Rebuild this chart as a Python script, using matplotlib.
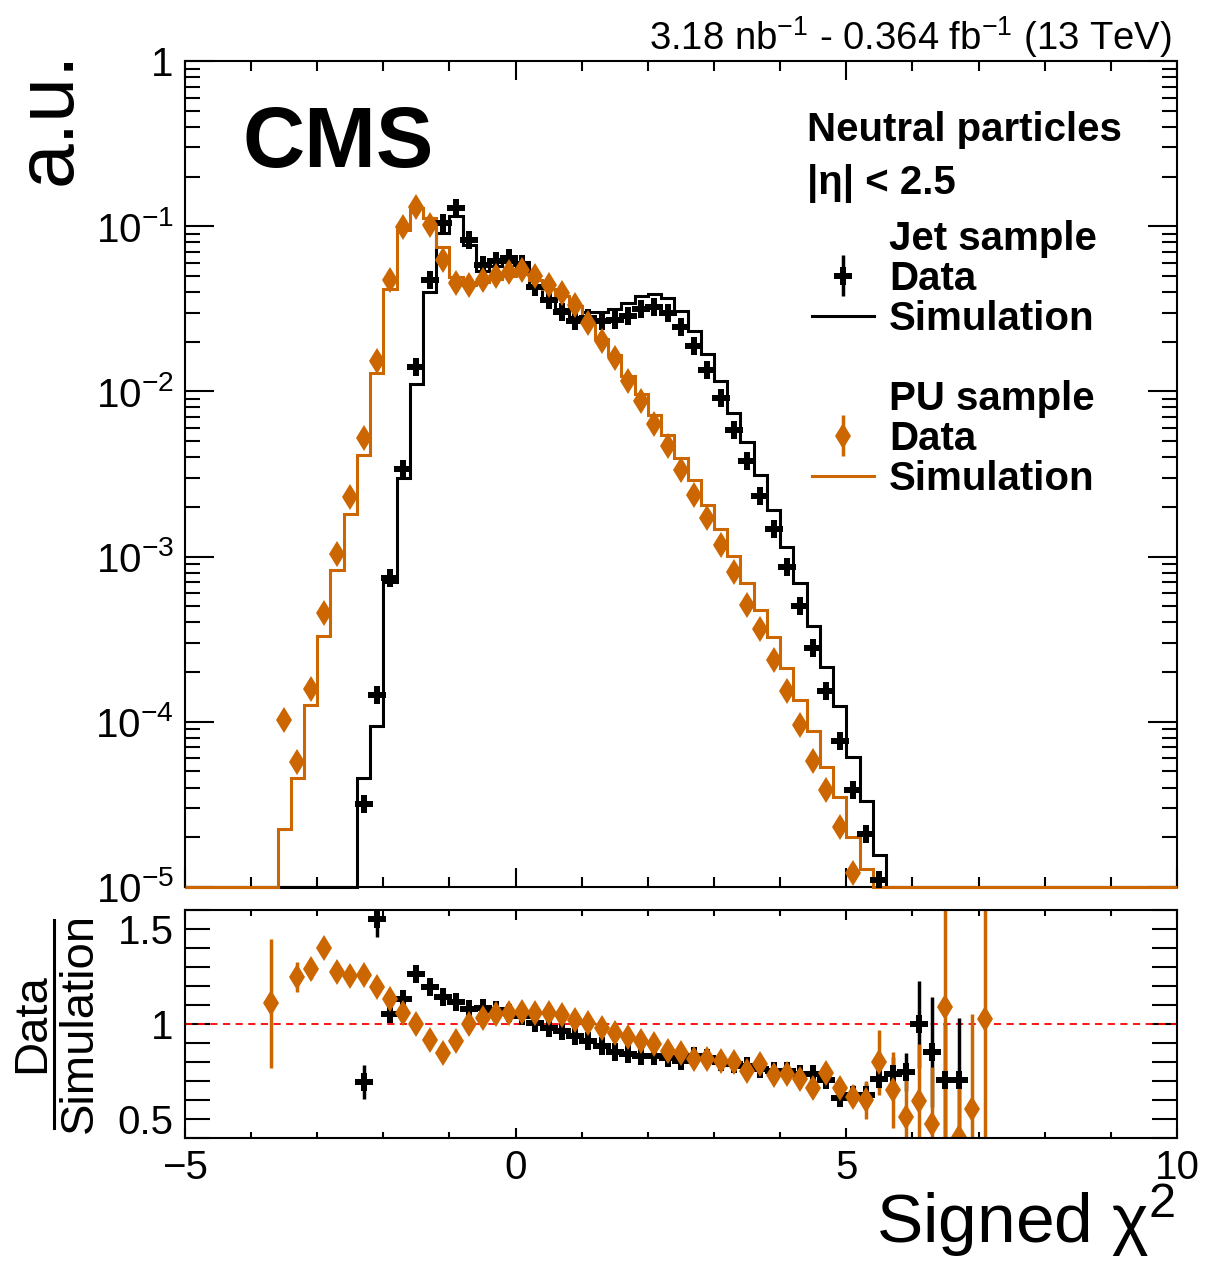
import numpy as np
import matplotlib
matplotlib.use('Agg')
import matplotlib.pyplot as plt
from matplotlib.lines import Line2D
from matplotlib.ticker import FixedLocator, FixedFormatter, MultipleLocator, LogLocator, NullFormatter

plt.rcParams['font.family'] = ['Liberation Sans', 'DejaVu Sans']
plt.rcParams['mathtext.fontset'] = 'custom'
plt.rcParams['mathtext.rm'] = 'Liberation Sans'
plt.rcParams['mathtext.it'] = 'Liberation Sans:italic'
plt.rcParams['mathtext.bf'] = 'Liberation Sans:bold'

ORANGE = '#CC6600'

# binning: 75 bins of 0.2 from -5 to 10
edges = np.linspace(-5, 10, 76)

# ---- Jet sample (black) ----
jet_x = [-2.3, -2.1, -1.9, -1.7, -1.5, -1.3, -1.1, -0.9, -0.7, -0.5,
         -0.3, -0.1, 0.1, 0.3, 0.5, 0.7, 0.9, 1.1, 1.3, 1.5,
         1.7, 1.9, 2.1, 2.3, 2.5, 2.7, 2.9, 3.1, 3.3, 3.5,
         3.7, 3.9, 4.1, 4.3, 4.5, 4.7, 4.9, 5.1, 5.3, 5.5]
jet_sim = [4.58e-5, 9.4e-5, 7.06e-4, 2.99e-3, 1.107e-2, 4.02e-2, 9.13e-2, 0.1152, 0.0765, 0.0538,
           0.0578, 0.0604, 0.0568, 0.0428, 0.0365, 0.0315, 0.0283, 0.0304, 0.0303, 0.0316,
           0.0343, 0.0378, 0.0388, 0.0366, 0.0305, 0.0233, 0.0169, 0.0115, 7.45e-3, 4.91e-3,
           3.13e-3, 1.92e-3, 1.15e-3, 6.92e-4, 3.78e-4, 2.15e-4, 1.25e-4, 6.14e-5, 3.30e-5, 1.57e-5]
jet_data = [3.16e-5, 1.46e-4, 7.42e-4, 3.39e-3, 1.415e-2, 4.73e-2, 0.1043, 0.1285, 0.0826, 0.0583,
            0.062, 0.064, 0.0592, 0.0431, 0.0358, 0.0304, 0.0265, 0.0277, 0.0268, 0.0271,
            0.0287, 0.0315, 0.0326, 0.0298, 0.0247, 0.0189, 0.0135, 9.1e-3, 5.86e-3, 3.77e-3,
            2.34e-3, 1.46e-3, 8.61e-4, 5.0e-4, 2.80e-4, 1.53e-4, 7.62e-5, 3.89e-5, 2.08e-5, 1.1e-5]

jet_rx = jet_x + [5.7, 5.9, 6.1, 6.3, 6.5, 6.7]
jet_ratio = [0.694, 1.550, 1.051, 1.132, 1.264, 1.195, 1.143, 1.115, 1.080, 1.083,
             1.073, 1.060, 1.042, 1.007, 0.981, 0.964, 0.937, 0.911, 0.885, 0.851,
             0.842, 0.833, 0.833, 0.819, 0.807, 0.833, 0.819, 0.798, 0.790, 0.781,
             0.764, 0.755, 0.755, 0.738, 0.738, 0.703, 0.611, 0.628, 0.628, 0.712,
             0.738, 0.746, 0.998, 0.851, 0.703, 0.703]
jet_rerr = [0.09, 0.09, 0.02, 0.01, 0.01, 0.01, 0.01, 0.01, 0.01, 0.01,
            0.01, 0.01, 0.01, 0.01, 0.01, 0.01, 0.01, 0.01, 0.01, 0.01,
            0.01, 0.01, 0.01, 0.01, 0.01, 0.01, 0.01, 0.01, 0.01, 0.01,
            0.01, 0.01, 0.01, 0.015, 0.02, 0.03, 0.04, 0.05, 0.06, 0.05,
            0.09, 0.10, 0.23, 0.29, 0.30, 0.33]

# ---- PU sample (orange) ----
pu_x = [-3.5, -3.3, -3.1, -2.9, -2.7, -2.5, -2.3, -2.1, -1.9, -1.7,
        -1.5, -1.3, -1.1, -0.9, -0.7, -0.5, -0.3, -0.1, 0.1, 0.3,
        0.5, 0.7, 0.9, 1.1, 1.3, 1.5, 1.7, 1.9, 2.1, 2.3,
        2.5, 2.7, 2.9, 3.1, 3.3, 3.5, 3.7, 3.9, 4.1, 4.3,
        4.5, 4.7, 4.9, 5.1, 5.3]
pu_sim = [2.23e-5, 4.58e-5, 1.26e-4, 3.29e-4, 8.26e-4, 1.82e-3, 4.13e-3, 1.29e-2, 4.18e-2, 9.5e-2,
          0.1285, 0.1117, 0.0753, 0.0496, 0.0442, 0.0458, 0.0476, 0.0503, 0.0512, 0.0472,
          0.0418, 0.0377, 0.0327, 0.0260, 0.0207, 0.0166, 0.0124, 9.67e-3, 7.21e-3, 5.46e-3,
          3.95e-3, 2.89e-3, 2.06e-3, 1.46e-3, 1.01e-3, 6.92e-4, 4.73e-4, 3.26e-4, 2.11e-4, 1.36e-4,
          8.77e-5, 5.33e-5, 3.51e-5, 2.01e-5, 1.28e-5]
pu_data = [1.03e-4, 5.69e-5, 1.59e-4, 4.56e-4, 1.04e-3, 2.29e-3, 5.22e-3, 1.52e-2, 4.73e-2, 0.0995,
           0.1315, 0.102, 0.0625, 0.0452, 0.0441, 0.0473, 0.050, 0.0531, 0.0544, 0.050,
           0.0441, 0.0393, 0.0334, 0.0261, 0.0203, 0.0159, 0.0116, 8.77e-3, 6.37e-3, 4.69e-3,
           3.36e-3, 2.35e-3, 1.71e-3, 1.18e-3, 8.02e-4, 5.11e-4, 3.65e-4, 2.38e-4, 1.53e-4, 9.62e-5,
           5.77e-5, 3.89e-5, 2.31e-5, 1.21e-5, np.nan]

pu_rx = [-3.7] + pu_x + [5.5, 5.7, 5.9, 6.1, 6.3, 6.5, 6.7, 6.9, 7.1]
pu_ratio = [1.108, 4.6, 1.247, 1.289, 1.398, 1.272, 1.254, 1.259, 1.195, 1.129, 1.056,
            0.998, 0.917, 0.847, 0.911, 0.998, 1.033, 1.051, 1.056, 1.063, 1.060,
            1.056, 1.045, 1.023, 1.004, 0.981, 0.951, 0.934, 0.911, 0.894, 0.859,
            0.847, 0.816, 0.816, 0.807, 0.798, 0.750, 0.790, 0.729, 0.738, 0.708,
            0.663, 0.743, 0.663, 0.616, 0.598,
            0.798, 0.651, 0.512, 0.593, 0.472, 1.091, 0.407, 0.555, 1.025]
pu_rerr = [0.34, 1.0, 0.08, 0.05, 0.03, 0.02, 0.02, 0.02, 0.01, 0.01, 0.01,
           0.01, 0.01, 0.01, 0.01, 0.01, 0.01, 0.01, 0.01, 0.01, 0.01,
           0.01, 0.01, 0.01, 0.01, 0.01, 0.01, 0.01, 0.01, 0.01, 0.01,
           0.01, 0.01, 0.01, 0.01, 0.01, 0.015, 0.015, 0.02, 0.02, 0.02,
           0.03, 0.04, 0.05, 0.05, 0.10,
           0.17, 0.20, 0.20, 0.30, 0.30, 0.80, 0.30, 0.50, 0.80]

ytick_vals = [1e-5, 1e-4, 1e-3, 1e-2, 1e-1, 1]
ytick_text = ['$10^{-5}$', '$10^{-4}$', '$10^{-3}$', '$10^{-2}$', '$10^{-1}$', '1']


def full_hist(xs, vals, floor=1e-5):
    # empty bins sit on the lower frame, like the ROOT drawing
    h = np.full(len(edges) - 1, floor)
    idx = np.round((np.array(xs) - edges[0] - 0.1) / 0.2).astype(int)
    h[idx] = vals
    return h


fig = plt.figure(figsize=(12.08, 12.64), dpi=100)
ax1 = fig.add_axes([0.1531, 0.2983, 0.8212, 0.6534])
ax2 = fig.add_axes([0.1531, 0.0997, 0.8212, 0.1804])

# main panel
ax1.stairs(full_hist(jet_x, jet_sim), edges, color='black', lw=2.2, baseline=None,
           zorder=3, clip_on=False)
ax1.stairs(full_hist(pu_x, pu_sim), edges, color=ORANGE, lw=2.2, baseline=None,
           zorder=3.1, clip_on=False)
ax1.plot(jet_x, jet_data, 'P', color='black', ms=13, mew=0, zorder=4)
ax1.plot(pu_x, pu_data, 'd', color=ORANGE, ms=13, mew=0, zorder=4.1)

ax1.set_yscale('log')
ax1.set_xlim(-5, 10)
ax1.set_ylim(1e-5, 1)
ax1.xaxis.set_major_locator(MultipleLocator(5))
ax1.xaxis.set_minor_locator(MultipleLocator(1))
ax1.yaxis.set_major_locator(FixedLocator(ytick_vals))
ax1.yaxis.set_major_formatter(FixedFormatter(ytick_text))
ax1.yaxis.set_minor_locator(LogLocator(base=10, subs=np.arange(2, 10)))
ax1.yaxis.set_minor_formatter(NullFormatter())
ax1.tick_params(which='both', direction='in', top=True, right=True, width=1.5,
                labelbottom=False, labelsize=29, pad=8)
ax1.tick_params(axis='y', which='major', length=21)
ax1.tick_params(axis='y', which='minor', length=11)
ax1.tick_params(axis='x', which='major', length=14)
ax1.tick_params(axis='x', which='minor', length=7)

# ratio panel
ax2.axhline(1, color='red', lw=1.3, ls=(0, (4, 3)))
jet_eb = ax2.errorbar(jet_rx, jet_ratio, yerr=jet_rerr, fmt='P', color='black',
                      ms=13, mew=0, elinewidth=2.5, capsize=0)
pu_eb = ax2.errorbar(pu_rx, pu_ratio, yerr=pu_rerr, fmt='d', color=ORANGE,
                     ms=13, mew=0, elinewidth=2.5, capsize=0)
ax2.set_xlim(-5, 10)
ax2.set_ylim(0.4, 1.6)
ax2.xaxis.set_major_locator(MultipleLocator(5))
ax2.xaxis.set_minor_locator(MultipleLocator(1))
ax2.yaxis.set_major_locator(FixedLocator([0.5, 1, 1.5]))
ax2.yaxis.set_major_formatter(FixedFormatter(['0.5', '1', '1.5']))
ax2.yaxis.set_minor_locator(MultipleLocator(0.1))
ax2.tick_params(which='both', direction='in', top=True, right=True, width=1.5,
                labelsize=29, pad=8)
ax2.tick_params(axis='y', which='both', length=18)
ax2.tick_params(axis='x', which='major', length=7)
ax2.tick_params(axis='x', which='minor', length=4)

for ax in (ax1, ax2):
    for sp in ax.spines.values():
        sp.set_linewidth(1.5)

# legend
blank = Line2D([], [], linestyle='none', marker='none')
jet_sim_h = Line2D([], [], color='black', lw=2.2)
pu_sim_h = Line2D([], [], color=ORANGE, lw=2.2)
ax1.legend([blank, jet_eb, jet_sim_h, blank, blank, pu_eb, pu_sim_h],
           ['Jet sample', 'Data', 'Simulation', '', 'PU sample', 'Data', 'Simulation'],
           loc='upper left', bbox_to_anchor=(0.632, 0.808), frameon=False,
           prop=dict(weight='bold', size=29), handlelength=1.55, handletextpad=0.37,
           labelspacing=0.05, borderpad=0, borderaxespad=0)

ax1.text(0.058, 0.898, 'CMS', transform=ax1.transAxes, fontsize=62, fontweight='bold',
         ha='left', va='center')
ax1.text(0.627, 0.916, 'Neutral particles', transform=ax1.transAxes, fontsize=29,
         fontweight='bold', ha='left', va='center')
ax1.text(0.627, 0.852, '|η| < 2.5', transform=ax1.transAxes, fontsize=29,
         fontweight='bold', ha='left', va='center')

fig.text(0.970, 0.9604, r'3.18 nb$^{-1}$ - 0.364 fb$^{-1}$ (13 TeV)', ha='right',
         va='baseline', fontsize=27.5)
fig.text(0.041, 0.960, 'a.u.', rotation=90, ha='center', va='top', fontsize=58)
fig.text(0.9727, 0.017, 'Signed χ$^{2}$', ha='right', va='baseline', fontsize=50)

# Data / Simulation fraction label
fig.text(32 / 1208, 1 - 1023 / 1264, 'Data', rotation=90, ha='center', va='center', fontsize=34)
fig.text(80 / 1208, 1 - 1023 / 1264, 'Simulation', rotation=90, ha='center', va='center', fontsize=34)
fig.add_artist(Line2D([54 / 1208, 54 / 1208], [1 - 920 / 1264, 1 - 1128 / 1264],
                      color='black', lw=2.2))

fig.savefig('out.png', dpi=100)
